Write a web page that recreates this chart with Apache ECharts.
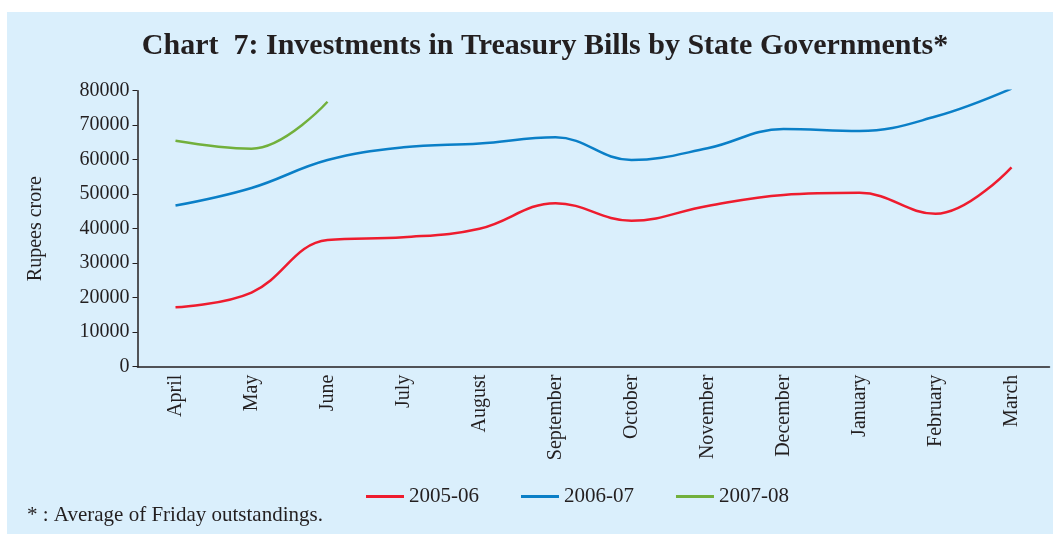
<!DOCTYPE html>
<html>
<head>
<meta charset="utf-8">
<script src="https://cdn.jsdelivr.net/npm/echarts@6/dist/echarts.min.js"></script>
<style>
html,body{margin:0;padding:0;background:#fff;}
#chart{width:1053px;height:534px;}
</style>
</head>
<body>
<div id="chart"></div>
<script>
const categories = ['April','May','June','July','August','September','October','November','December','January','February','March'];
const s2005 = [17200, 21500, 36700, 37500, 40000, 47400, 42300, 46600, 49800, 50400, 44300, 57800];
const s2006 = [46700, 51800, 59900, 63600, 64700, 66500, 59900, 63300, 68900, 68300, 72500, 80600];
const s2007 = [65500, 63200, 76800];
const seriesNames = ['2005-06', '2006-07', '2007-08'];
const colors = ['#ee1c2e', '#0a7fc7', '#72b03c'];

const font = 'Liberation Serif';
const chart = echarts.init(document.getElementById('chart'));
chart.setOption({
  animation: false,
  color: colors,
  textStyle: { fontFamily: font, color: '#231f20' },
  graphic: [
    { type: 'rect', z: -10, shape: { x: 7, y: 12, width: 1046, height: 522 }, style: { fill: '#daeffc' } },
    { type: 'text', left: 27, top: 505, style: { text: '* : Average of Friday outstandings.', font: '21px "Liberation Serif"', fill: '#231f20' } }
  ],
  title: {
    text: 'Chart  7: Investments in Treasury Bills by State Governments*',
    left: 540, top: 26, textAlign: 'center',
    textStyle: { fontFamily: font, fontSize: 30, fontWeight: 'bold', color: '#231f20' }
  },
  legend: {
    data: seriesNames,
    top: 481, left: 361,
    itemWidth: 38, itemHeight: 3, itemGap: 42,
    icon: 'rect',
    textStyle: { fontFamily: font, fontSize: 21, color: '#231f20' }
  },
  grid: { left: 137.5, right: 3.5, top: 90.7, height: 276, containLabel: false },
  xAxis: {
    type: 'category',
    data: categories,
    boundaryGap: true,
    axisLine: { lineStyle: { color: '#231f20', width: 1.5 } },
    axisTick: { alignWithLabel: false, length: 5, lineStyle: { color: '#231f20' } },
    axisLabel: { rotate: 90, interval: 0, fontFamily: font, fontSize: 20, color: '#231f20', margin: 8 }
  },
  yAxis: {
    type: 'value', min: 0, max: 80000, interval: 10000,
    name: 'Rupees crore', nameLocation: 'middle', nameGap: 92, nameRotate: 90,
    nameTextStyle: { fontFamily: font, fontSize: 20, color: '#231f20' },
    splitLine: { show: false },
    axisLine: { show: true, lineStyle: { color: '#231f20', width: 1.5 } },
    axisTick: { show: true, length: 5, lineStyle: { color: '#231f20' } },
    axisLabel: { fontFamily: font, fontSize: 20, color: '#231f20', margin: 8, formatter: v => String(v) }
  },
  series: [
    { name: seriesNames[0], type: 'line', data: s2005, smooth: 0.4, showSymbol: false, lineStyle: { width: 2.5, color: colors[0] } },
    { name: seriesNames[1], type: 'line', data: s2006, smooth: 0.4, showSymbol: false, lineStyle: { width: 2.5, color: colors[1] } },
    { name: seriesNames[2], type: 'line', data: s2007, smooth: 0.4, showSymbol: false, lineStyle: { width: 2.5, color: colors[2] } }
  ]
});
</script>
</body>
</html>
